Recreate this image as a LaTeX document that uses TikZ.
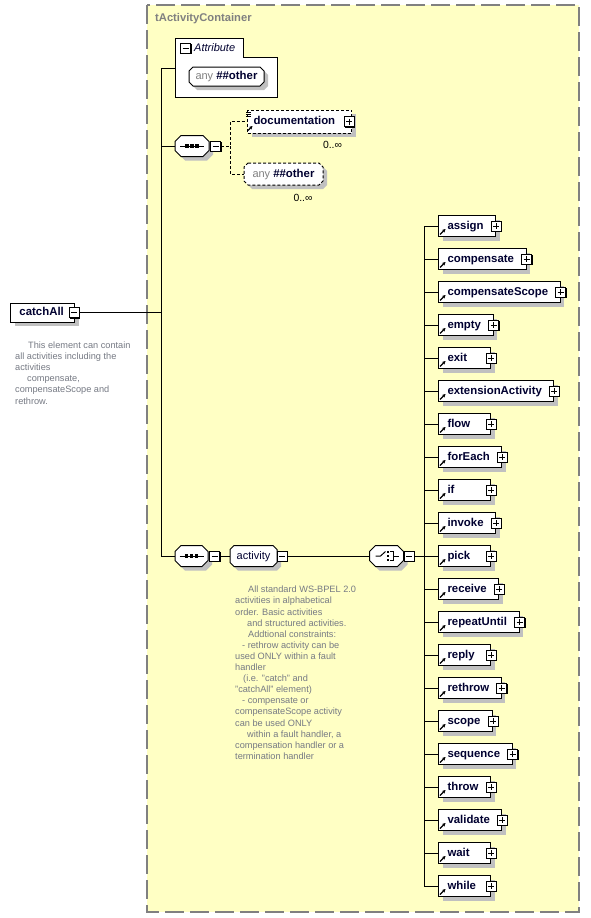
\documentclass[tikz,border=0pt]{standalone}
\usepackage{fontspec}
\setmainfont{Liberation Sans}
\usetikzlibrary{shadows,arrows.meta}
\definecolor{bgyellow}{RGB}{255,255,196}
\definecolor{framegray}{RGB}{128,128,128}
\definecolor{shadowgray}{RGB}{192,192,192}
\definecolor{elemtext}{RGB}{0,0,48}
\definecolor{anngray}{RGB}{118,122,132}
\definecolor{anygray}{RGB}{128,128,128}
\newcommand\elemfont{\fontsize{11.4}{13}\selectfont\bfseries}
\newcommand\regfont{\fontsize{11}{13}\selectfont}
\newcommand\annfont{\fontsize{9.2}{11.1}\selectfont}
\newcommand\occfont{\fontsize{10.4}{12}\selectfont}
\newcommand\elabel[1]{\setbox0\hbox{\hspace*{9pt}#1\hspace*{12pt}}\ifdim\wd0<52pt\hbox to 52pt{\unhbox0\hfil}\else\box0\fi}
% chamfered outline with shadow: [style]{x}{y}{w}{h}{chamfer}
\newcommand\octshape[6][]{%
 \pgfmathsetmacro\octw{#4/2}\pgfmathsetmacro\octh{#5/2}\def\octc{#6}%
 \begin{scope}[shift={(#2,#3)}]
 \fill[shadowgray, shift={(4,4)}] (-\octw+\octc,-\octh) -- (\octw-\octc,-\octh) -- (\octw,-\octh+\octc) -- (\octw,\octh-\octc) -- (\octw-\octc,\octh) -- (-\octw+\octc,\octh) -- (-\octw,\octh-\octc) -- (-\octw,-\octh+\octc) -- cycle;
 \draw[fill=white, line width=1pt, #1] (-\octw+\octc,-\octh) -- (\octw-\octc,-\octh) -- (\octw,-\octh+\octc) -- (\octw,\octh-\octc) -- (\octw-\octc,\octh) -- (-\octw+\octc,\octh) -- (-\octw,\octh-\octc) -- (-\octw,-\octh+\octc) -- cycle;
 \end{scope}}
\newcommand\seqicon[1]{\begin{scope}[shift={(#1.center)}]
 \draw[line width=1pt] (-12,0) -- (12,0);
 \foreach \dx in {-5,0,5} \fill (\dx-1.7,-1.6) rectangle (\dx+1.7,1.6);
\end{scope}}
\newcommand\choiceicon[1]{\begin{scope}[shift={(#1.center)}, line width=1pt]
 \draw (-11,0) -- (-6,0) -- (-1,-4.5);
 \foreach \dy in {-4,0,4} \fill (0,\dy-1.2) rectangle (2.4,\dy+1.2);
 \draw (3.5,-4.5) -- (7,-4.5) -- (7,4.5) -- (3.5,4.5);
 \draw (7,0) -- (12,0);
\end{scope}}
\begin{document}
\begin{tikzpicture}[x=1pt,y=-1pt,
 conn/.style={line width=1pt, draw=black},
 dconn/.style={conn, dash pattern=on 3pt off 2pt},
 gshadow/.style={general shadow={shadow xshift=4pt, shadow yshift=-4pt, fill=shadowgray}},
 elembox/.style={draw, fill=white, line width=1pt, inner xsep=0pt, inner ysep=0pt, minimum height=21pt, text height=8.6pt, text depth=2.4pt, font=\elemfont, text=elemtext, gshadow, anchor=west},
 iconbox/.style={draw, fill=white, line width=0.9pt, minimum size=10pt, inner sep=0pt, general shadow={shadow xshift=1pt, shadow yshift=-1pt, fill=black}},
 minusbox/.style={iconbox, path picture={\draw[line width=0.9pt] ([xshift=2pt]path picture bounding box.west) -- ([xshift=-2pt]path picture bounding box.east);}},
 plusbox/.style={iconbox, path picture={\draw[line width=0.9pt] ([xshift=2pt]path picture bounding box.west) -- ([xshift=-2pt]path picture bounding box.east); \draw[line width=0.9pt] ([yshift=-2pt]path picture bounding box.north) -- ([yshift=2pt]path picture bounding box.south);}},
 holder/.style={inner sep=0pt, text height=8.6pt, text depth=2.4pt},
 iconarrow/.style={line width=1.1pt, -{Stealth[length=3.4pt,width=3.6pt]}},
 annot/.style={font=\annfont, text=anngray, align=left, inner sep=0pt, anchor=north west},
 occ/.style={font=\occfont, inner sep=0pt},
 titlestyle/.style={font=\fontsize{11.2}{13}\selectfont\bfseries, text=framegray, inner sep=0pt, anchor=west}
]
\useasboundingbox (0,0) rectangle (590,918);
\fill[white] (0,0) rectangle (590,918);
\draw[fill=bgyellow, draw=framegray, line width=1.5pt, dash pattern=on 19pt off 6pt] (147,5) rectangle (579,912);
\node[titlestyle] (title) at (155,19) {tActivityContainer};

% attribute block
\draw[conn, fill=white] (175,38) -- (243,38) -- (243,57) -- (277,57) -- (277,97) -- (175,97) -- cycle;
\coordinate (attrw) at (175,68);
\node[minusbox] (attrm) at (185.5,48) {};
\node[anchor=west, inner sep=0pt, font=\regfont\itshape, text=elemtext] (attrlbl) at (194,48) {Attribute};
\octshape{226.5}{76.5}{75}{19}{4}
\node[holder, minimum width=75pt, minimum height=19pt, font=\regfont] (anyattr) at (226.5,76.5) {\textcolor{anygray}{any} {\elemfont\color{elemtext}\#\#other}};

% bus
\coordinate (bustop) at (161,68);
\coordinate (busbot) at (161,556);

% catchAll
\node[elembox, minimum height=19pt] (catchall) at (10,312.5) {\hbox to 64pt{\hspace*{9pt}catchAll\hfil}};
\node[minusbox] (catchm) at ([xshift=-1pt]catchall.east) {};
\draw[conn] (catchm.east) -- (catchm.east -| bustop);

\node[annot] (ann1) at (15,341.7) {\hspace*{13pt}This element can contain\\
all activities including the\\
activities\\
\hspace*{12pt}compensate,\\
compensateScope and\\
rethrow.};

% first sequence
\octshape{192}{146}{34}{21}{6}
\node[holder, minimum width=34pt, minimum height=21pt] (seq1) at (192,146) {};
\seqicon{seq1}
\node[minusbox] (seq1m) at ([xshift=6.5pt]seq1.east) {};
\draw[conn] (attrw) -- (bustop) -- (busbot);
\draw[conn] (seq1.west -| bustop) -- (seq1.west);

\node[elembox, dash pattern=on 3pt off 2pt, minimum height=23pt] (doc) at (247,121.5) {\hbox to 104pt{\hspace*{6pt}documentation\hfil}};
\node[plusbox] (docp) at ([xshift=-3pt]doc.east) {};
\draw[line width=0.6pt] ([shift={(-1,2.3)}]doc.north west) -- ++(5,0)
  ([shift={(-1,4.3)}]doc.north west) -- ++(5,0)
  ([shift={(-1,6.3)}]doc.north west) -- ++(5,0);
\draw[iconarrow] ([shift={(1,-3)}]doc.south west) -- ++(4.5,-4.5);
\node[occ] (occ1) at (332.5,145) {0..∞};

\octshape[dash pattern=on 3pt off 2pt]{283.5}{174}{79}{22}{4}
\node[holder, minimum width=79pt, minimum height=22pt, font=\regfont] (anyel) at (283.5,174) {\textcolor{anygray}{any} {\elemfont\color{elemtext}\#\#other}};
\node[occ] (occ2) at (303,197.5) {0..∞};

\coordinate (fork1) at (230,146);
\draw[dconn] (seq1m.east) -- (fork1) |- (doc.west);
\draw[dconn] (fork1) |- (anyel.west);

% second sequence
\octshape{191.5}{556}{33}{21}{6}
\node[holder, minimum width=33pt, minimum height=21pt] (seq2) at (191.5,556) {};
\seqicon{seq2}
\node[minusbox] (seq2m) at ([xshift=6.5pt]seq2.east) {};
\draw[conn] (busbot) -- (seq2.west);

\octshape{253.5}{556}{47}{21}{4}
\node[holder, minimum width=47pt, minimum height=21pt, font=\regfont, text=elemtext] (act) at (253.5,556) {activity};
\node[minusbox] (actm) at ([xshift=5pt]act.east) {};
\draw[conn] (seq2m.east) -- (act.west);

\octshape{386.5}{556}{34}{21}{6}
\node[holder, minimum width=34pt, minimum height=21pt] (ch) at (386.5,556) {};
\choiceicon{ch}
\node[minusbox] (chm) at ([xshift=5.5pt]ch.east) {};
\draw[conn] (actm.east) -- (ch.west);

\coordinate (fork2) at (424,556);
\draw[conn] (chm.east) -- (fork2);

\node[annot] (ann2) at (235,586) {\hspace*{13pt}All standard WS-BPEL 2.0\\
activities in alphabetical\\
order. Basic activities\\
\hspace*{12pt}and structured activities.\\
\hspace*{13pt}Addtional constraints:\\
\hspace*{7pt}- rethrow activity can be\\
used ONLY within a fault\\
handler\\
\hspace*{8pt}(i.e. "catch" and\\
"catchAll" element)\\
\hspace*{7pt}- compensate or\\
compensateScope activity\\
can be used ONLY\\
\hspace*{12pt}within a fault handler, a\\
compensation handler or a\\
termination handler};

\foreach \lbl [count=\i] in {assign,compensate,compensateScope,empty,exit,extensionActivity,flow,forEach,if,invoke,pick,receive,repeatUntil,reply,rethrow,scope,sequence,throw,validate,wait,while} {
 \node[elembox] (e\i) at (438,{226+33*(\i-1)}) {\elabel{\lbl}};
 \node[plusbox] (p\i) at (e\i.east) {};
 \draw[iconarrow] ([shift={(2,-2.5)}]e\i.south west) -- ++(5.5,-5.5);
 \draw[conn] (fork2) |- (e\i.west);
}
\end{tikzpicture}
\end{document}
